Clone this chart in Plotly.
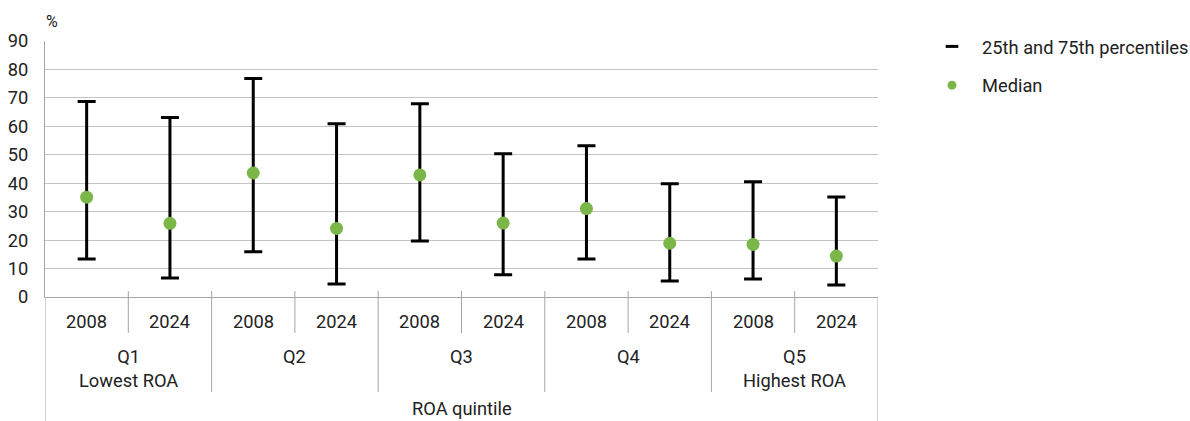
import plotly.graph_objects as go

# ---- data ----
quintiles = ["Q1<br>Lowest ROA", "Q2", "Q3", "Q4", "Q5<br>Highest ROA"]
years = ["2008", "2024"]
p75 = [68.7, 63.1, 76.8, 60.9, 67.9, 50.4, 53.2, 39.8, 40.5, 35.2]
median = [35.1, 25.9, 43.6, 24.1, 42.9, 26.0, 31.1, 18.9, 18.5, 14.4]
p25 = [13.4, 6.7, 15.9, 4.6, 19.7, 7.8, 13.4, 5.6, 6.3, 4.2]
y_ticks = list(range(0, 91, 10))
axis_title = "ROA quintile"
unit = "%"

FONT = "Roboto"
TXT = "#222222"
GREEN = "#7AB648"
GRID = "#C4C4C4"
LINEC = "#A6A6A6"
FS = 18.3

n = len(median)
xs = list(range(n))
year_labels = [years[i % 2] for i in xs]

top_h = 41
bot_h = 124
plot_h = 421 - top_h - bot_h
left_w = 45
right_w = 312
plot_w = 1190 - left_w - right_w


def py(pix):
    """convert a pixel row to paper y"""
    return (421 - bot_h - pix) / plot_h


def px(pix):
    return (pix - left_w) / plot_w


fig = go.Figure()

# error bars (percentiles)
fig.add_trace(go.Scatter(
    x=xs, y=median, mode="markers",
    marker=dict(size=1, color="rgba(0,0,0,0)"),
    error_y=dict(type="data", symmetric=False,
                 array=[t - m for t, m in zip(p75, median)],
                 arrayminus=[m - b for m, b in zip(median, p25)],
                 color="black", thickness=3, width=9),
    showlegend=False, hoverinfo="skip"))

# median points
fig.add_trace(go.Scatter(
    x=xs, y=median, mode="markers",
    marker=dict(size=13, color=GREEN),
    showlegend=False))

# legend-only entries
fig.add_trace(go.Scatter(
    x=[None], y=[None], mode="markers", name="25th and 75th percentiles",
    marker=dict(symbol="line-ew", size=9, color="black",
                line=dict(width=3, color="black")),
    legendgroup="a"))
fig.add_trace(go.Scatter(
    x=[None], y=[None], mode="markers", name="Median",
    marker=dict(size=9, color=GREEN), legendgroup="b"))

annotations = []
shapes = []

# year labels
for i in xs:
    annotations.append(dict(x=i, y=py(321), xref="x", yref="paper",
                            text=year_labels[i], showarrow=False,
                            font=dict(family=FONT, size=FS, color=TXT),
                            xanchor="center", yanchor="middle"))
# quintile labels
for q, lab in enumerate(quintiles):
    annotations.append(dict(x=2 * q + 0.5, y=py(344), xref="x", yref="paper",
                            text=lab, showarrow=False,
                            font=dict(family=FONT, size=FS, color=TXT),
                            xanchor="center", yanchor="top"))
# axis title
annotations.append(dict(x=(n - 1) / 2, y=py(408), xref="x", yref="paper",
                        text=axis_title, showarrow=False,
                        font=dict(family=FONT, size=FS, color=TXT),
                        xanchor="center", yanchor="middle"))
# unit
annotations.append(dict(x=px(44), y=py(21), xref="paper", yref="paper",
                        text=unit, showarrow=False,
                        font=dict(family=FONT, size=16, color=TXT),
                        xanchor="left", yanchor="middle"))

# dividers
for i in range(n + 1):
    xb = i - 0.5
    if i == 0 or i == n:
        y1 = -0.6
    elif i % 2 == 0:
        y1 = py(392)
    else:
        y1 = py(333)
    shapes.append(dict(type="line", xref="x", yref="paper",
                       x0=xb, x1=xb, y0=py(291) if 0 < i < n else 0, y1=y1,
                       line=dict(color=LINEC, width=1)))

fig.update_layout(
    width=1190, height=421,
    margin=dict(l=left_w, r=right_w, t=top_h, b=bot_h, autoexpand=False),
    paper_bgcolor="white", plot_bgcolor="white",
    font=dict(family=FONT, size=FS, color=TXT),
    xaxis=dict(range=[-0.5, n - 0.5], showticklabels=False, showgrid=False,
               zeroline=False, showline=True, linecolor=LINEC, linewidth=1,
               ticks="", fixedrange=True, automargin=False),
    yaxis=dict(range=[0, 90], tickvals=y_ticks, showgrid=True,
               gridcolor=GRID, gridwidth=1, zeroline=False,
               showline=True, linecolor=LINEC, linewidth=1, ticks="",
               ticklabelstandoff=12, tickfont=dict(size=FS, color=TXT),
               automargin=False),
    legend=dict(x=px(922), y=py(28), xanchor="left", yanchor="top",
                traceorder="grouped", tracegroupgap=12, itemwidth=50,
                font=dict(family=FONT, size=FS, color=TXT),
                bgcolor="rgba(0,0,0,0)"),
    annotations=annotations, shapes=shapes,
)

fig.write_html("out.html", config={"displayModeBar": False},
               post_script="document.body.style.margin='0';"
                           "document.body.style.padding='0';")
